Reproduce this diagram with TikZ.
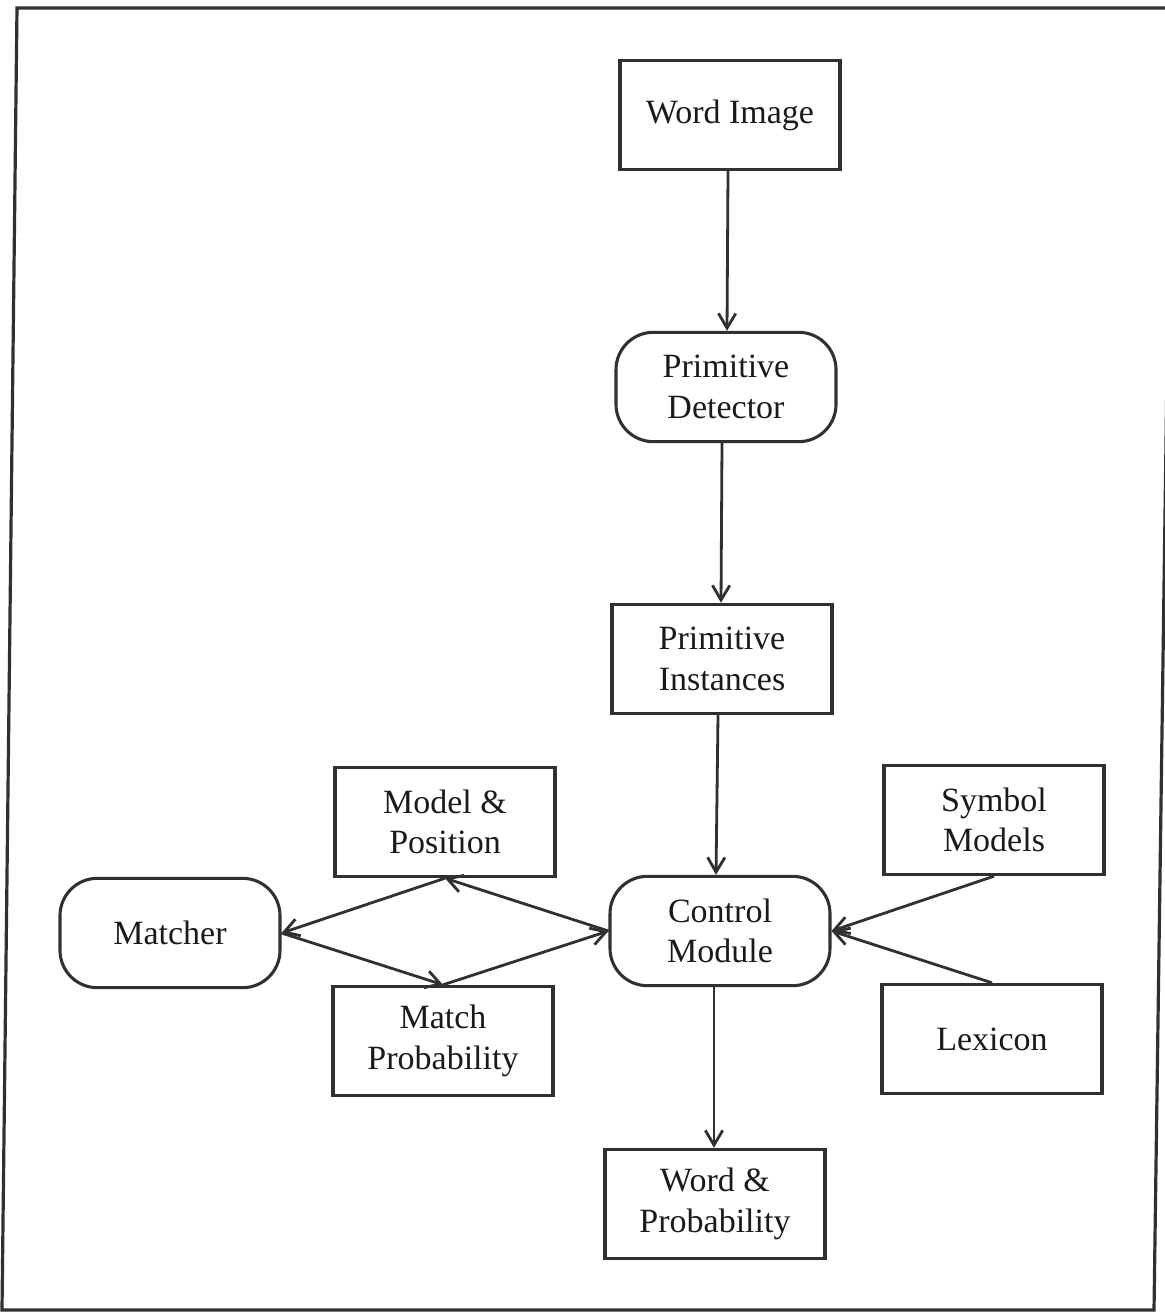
\documentclass[tikz,border=0pt]{standalone}
\usepackage{fontspec}
\setmainfont{Liberation Serif}
\usetikzlibrary{arrows.meta}
\definecolor{ink}{HTML}{303030}
\definecolor{txt}{HTML}{1A1A1A}
\tikzset{
  block/.style={draw=ink, line width=2.3pt, minimum width=165pt, minimum height=82pt,
    align=center, text=txt, font=\fontsize{25.5}{30.5}\selectfont, inner sep=0pt},
  roundblock/.style={block, rounded corners=28pt},
  flow/.style={draw=ink, line width=2.1pt, -{Straight Barb[length=11pt,width=13pt]}}
}
\begin{document}
\begin{tikzpicture}[x=0.75pt,y=-0.75pt]
\useasboundingbox (0,0) rectangle (1164,1312);
% outer frame
\draw[ink, line width=2.4pt] (17,8) -- (1172,8) -- (1154,1310) -- (2,1310) -- cycle;

\node[block]      (wi)  at (730,115)  {Word Image};
\node[roundblock] (pd)  at (726,387)  {Primitive\\Detector};
\node[block]      (pi)  at (722,659)  {Primitive\\Instances};
\node[block]      (mp)  at (445,822)  {Model \&\\Position};
\node[block]      (sm)  at (994,820)  {Symbol\\Models};
\node[roundblock] (mt)  at (170,933)  {Matcher};
\node[roundblock] (cm)  at (720,931)  {Control\\Module};
\node[block]      (mpb) at (443,1041) {Match\\Probability};
\node[block]      (lx)  at (992,1039) {Lexicon};
\node[block]      (wp)  at (715,1204) {Word \&\\Probability};

\draw[flow] ([xshift=-1.5pt]wi.south) -- ([xshift=0.75pt]pd.north);
\draw[flow] ([xshift=-3pt]pd.south) -- ([xshift=-0.75pt]pi.north);
\draw[flow] ([xshift=-3pt]pi.south) -- ([xshift=-3pt]cm.north);
\draw[flow] ([xshift=-4.5pt]cm.south) -- ([xshift=-0.75pt]wp.north);
\draw[flow] (sm.south) -- (cm.east);
\draw[flow] (lx.north) -- (cm.east);
\draw[flow] (cm.west) -- (mp.south);
\draw[flow] (mp.south) -- (mt.east);
\draw[flow] (mt.east) -- (mpb.north);
\draw[flow] (mpb.north) -- (cm.west);
\end{tikzpicture}
\end{document}
